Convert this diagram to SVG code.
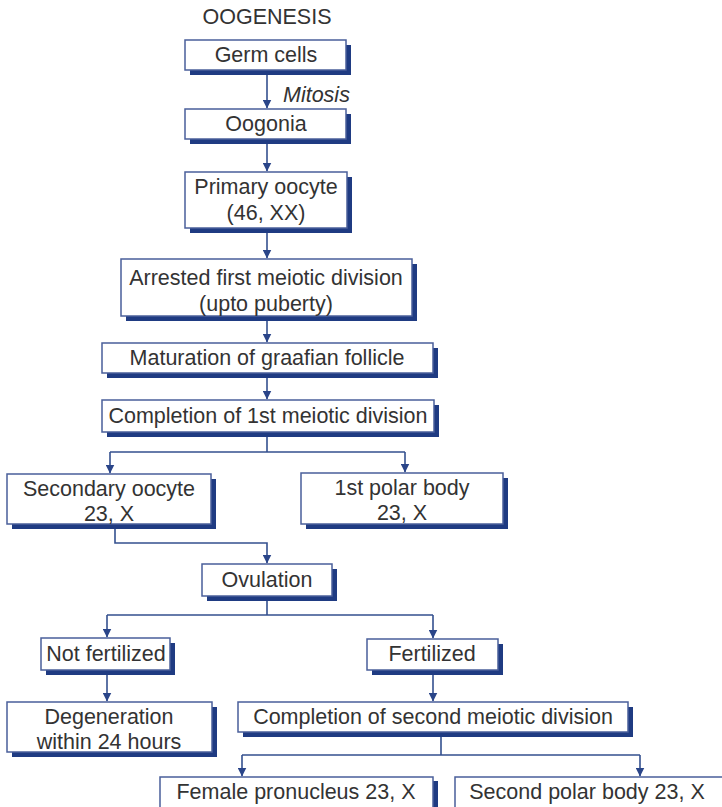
<svg xmlns="http://www.w3.org/2000/svg" width="722" height="807" viewBox="0 0 722 807">
<defs>
<style>
.sh{fill:#1f3b82}
.bx{fill:#ffffff;stroke:#4a5f9a;stroke-width:1.5}
.t{font-family:"Liberation Sans",Arial,sans-serif;font-size:21.5px;fill:#333333;text-anchor:middle}
.c{fill:none;stroke:#34508f;stroke-width:1.6}
</style>
<marker id="ah" markerWidth="9" markerHeight="9" refX="8.5" refY="4.5" orient="auto" markerUnits="userSpaceOnUse" viewBox="0 0 9 9">
<path d="M0,0 L9,4.5 L0,9 Z" fill="#2a4589"/>
</marker>
</defs>
<rect width="722" height="807" fill="#ffffff"/>
<text class="t" x="267" y="24">OOGENESIS</text>
<g id="germ">
<rect class="sh" x="190" y="45" width="161" height="30"/>
<rect class="bx" x="185" y="40" width="161" height="30"/>
<text class="t" x="266" y="62">Germ cells</text>
</g>
<g id="oogonia">
<rect class="sh" x="190" y="114" width="161" height="30"/>
<rect class="bx" x="185" y="109" width="161" height="30"/>
<text class="t" x="266" y="131">Oogonia</text>
</g>
<g id="primary">
<rect class="sh" x="190" y="177" width="162" height="56"/>
<rect class="bx" x="185" y="172" width="162" height="56"/>
<text class="t" x="266" y="194">Primary oocyte</text>
<text class="t" x="266" y="220">(46, XX)</text>
</g>
<g id="arrested">
<rect class="sh" x="126" y="264" width="291" height="57"/>
<rect class="bx" x="121" y="259" width="291" height="57"/>
<text class="t" x="266" y="285">Arrested first meiotic division</text>
<text class="t" x="266" y="311">(upto puberty)</text>
</g>
<g id="maturation">
<rect class="sh" x="107" y="348" width="331" height="30"/>
<rect class="bx" x="102" y="343" width="331" height="30"/>
<text class="t" x="267" y="365">Maturation of graafian follicle</text>
</g>
<g id="completion1">
<rect class="sh" x="107" y="405" width="332" height="32"/>
<rect class="bx" x="102" y="400" width="332" height="32"/>
<text class="t" x="268" y="423">Completion of 1st meiotic division</text>
</g>
<g id="secondary">
<rect class="sh" x="12" y="479" width="204" height="50"/>
<rect class="bx" x="7" y="474" width="204" height="50"/>
<text class="t" x="109" y="496">Secondary oocyte</text>
<text class="t" x="109" y="521">23, X</text>
</g>
<g id="polar1">
<rect class="sh" x="306" y="478" width="202" height="51"/>
<rect class="bx" x="301" y="473" width="202" height="51"/>
<text class="t" x="402" y="495">1st polar body</text>
<text class="t" x="402" y="520">23, X</text>
</g>
<g id="ovulation">
<rect class="sh" x="207" y="569" width="130" height="32"/>
<rect class="bx" x="202" y="564" width="130" height="32"/>
<text class="t" x="267" y="587">Ovulation</text>
</g>
<g id="notfert">
<rect class="sh" x="46" y="643" width="129" height="32"/>
<rect class="bx" x="41" y="638" width="129" height="32"/>
<text class="t" x="106" y="661">Not fertilized</text>
</g>
<g id="fert">
<rect class="sh" x="372" y="644" width="131" height="31"/>
<rect class="bx" x="367" y="639" width="131" height="31"/>
<text class="t" x="432" y="661">Fertilized</text>
</g>
<g id="degeneration">
<rect class="sh" x="12" y="707" width="205" height="50"/>
<rect class="bx" x="7" y="702" width="205" height="50"/>
<text class="t" x="109" y="724">Degeneration</text>
<text class="t" x="109" y="749">within 24 hours</text>
</g>
<g id="completion2">
<rect class="sh" x="243" y="707" width="390" height="30"/>
<rect class="bx" x="238" y="702" width="390" height="30"/>
<text class="t" x="433" y="724">Completion of second meiotic division</text>
</g>
<g id="female">
<rect class="sh" x="165" y="781" width="273" height="40"/>
<rect class="bx" x="160" y="777" width="273" height="40"/>
<text class="t" x="296" y="799">Female pronucleus 23, X</text>
</g>
<g id="polar2">
<rect class="sh" x="460" y="781" width="270" height="40"/>
<rect class="bx" x="455" y="777" width="270" height="40"/>
<text class="t" x="587" y="799">Second polar body 23, X</text>
</g>
<g id="connectors">
<path class="c" d="M267,75 V108" marker-end="url(#ah)"/>
<path class="c" d="M267,144 V171" marker-end="url(#ah)"/>
<path class="c" d="M267,233 V258" marker-end="url(#ah)"/>
<path class="c" d="M267,321 V342" marker-end="url(#ah)"/>
<path class="c" d="M267,378 V399" marker-end="url(#ah)"/>
<path class="c" d="M267,437 V452 M110,452 H405"/>
<path class="c" d="M110,452 V473" marker-end="url(#ah)"/>
<path class="c" d="M405,452 V472" marker-end="url(#ah)"/>
<path class="c" d="M115,529 V543 H267 V563" marker-end="url(#ah)"/>
<path class="c" d="M267,601 V615 M107,615 H433"/>
<path class="c" d="M107,615 V637" marker-end="url(#ah)"/>
<path class="c" d="M433,615 V638" marker-end="url(#ah)"/>
<path class="c" d="M107,675 V701" marker-end="url(#ah)"/>
<path class="c" d="M433,675 V701" marker-end="url(#ah)"/>
<path class="c" d="M441,737 V755 M242,755 H640"/>
<path class="c" d="M242,755 V776" marker-end="url(#ah)"/>
<path class="c" d="M640,755 V776" marker-end="url(#ah)"/>
<text x="283" y="102" style="font-family:'Liberation Sans',Arial,sans-serif;font-size:21.5px;font-style:italic;fill:#333333">Mitosis</text>
</g>
</svg>
